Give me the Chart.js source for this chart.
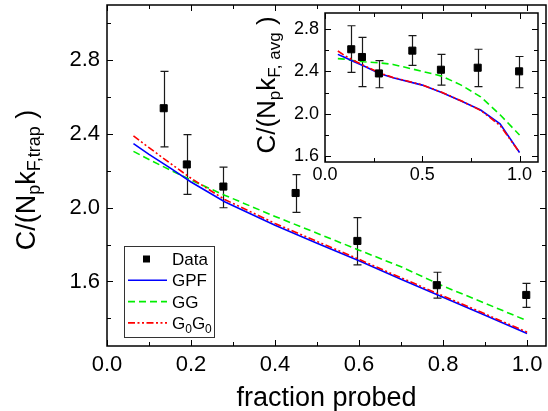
<!DOCTYPE html>
<html>
<head>
<meta charset="utf-8">
<script src="https://cdn.jsdelivr.net/npm/chart.js@4.4.1/dist/chart.umd.min.js"></script>
<style>
    html, body { margin: 0; padding: 0; background: #fff; }
    #wrap { position: relative; width: 548px; height: 411px; }
    #mainChart { position: absolute; left: 0; top: 0; }
    #insetChart { position: absolute; left: 250px; top: 6px; }
</style>
</head>
<body>
<div id="wrap">
    <canvas id="mainChart" width="548" height="411"></canvas>
    <canvas id="insetChart" width="290" height="184"></canvas>
</div>
<script>
// ============================================
// DATA
// ============================================

// measured points (same fractions for both panels)
const fraction = [0.135, 0.19, 0.277, 0.449, 0.596, 0.785, 0.998];

// main panel: C/(Np kF,trap)
const trapC = [2.54, 2.235, 2.115, 2.08, 1.82, 1.58, 1.527];
const trapErrLow = [2.33, 2.073, 2.0, 1.975, 1.69, 1.51, 1.46];
const trapErrHigh = [2.74, 2.397, 2.22, 2.18, 1.946, 1.65, 1.59];

// inset: C/(Np kF,avg)
const avgC = [2.608, 2.535, 2.38, 2.595, 2.415, 2.434, 2.40];
const avgErrLow = [2.39, 2.255, 2.245, 2.457, 2.27, 2.255, 2.245];
const avgErrHigh = [2.83, 2.72, 2.50, 2.737, 2.56, 2.608, 2.54];

// theory curves, main panel
const trapLineFrac = [0.063, 0.1, 0.15, 0.2, 0.28, 0.4, 0.5, 0.6, 0.7, 0.8, 0.9, 1.0];
const gpfTrap = [2.348, 2.29, 2.216, 2.14, 2.033, 1.905, 1.808, 1.712, 1.612, 1.515, 1.417, 1.318];
const ggTrap = [2.306, 2.262, 2.205, 2.15, 2.068, 1.953, 1.862, 1.77, 1.68, 1.575, 1.482, 1.387];
const g0g0Trap = [2.39, 2.326, 2.242, 2.16, 2.045, 1.915, 1.817, 1.72, 1.62, 1.522, 1.424, 1.325];

// theory curves, inset
const avgLineFrac = [0.066, 0.1, 0.15, 0.2, 0.28, 0.35, 0.5, 0.6, 0.7, 0.8, 0.9, 1.0];
const gpfAvg = [2.56, 2.532, 2.49, 2.45, 2.38, 2.34, 2.27, 2.20, 2.12, 2.035, 1.905, 1.635];
const ggAvg = [2.52, 2.515, 2.50, 2.49, 2.48, 2.465, 2.40, 2.355, 2.27, 2.16, 1.99, 1.80];
const g0g0Avg = [2.592, 2.55, 2.50, 2.455, 2.385, 2.342, 2.272, 2.202, 2.122, 2.032, 1.89, 1.635];

// series names ("_" marks a subscript)
const seriesLabels = ['Data', 'GPF', 'GG', 'G_0G_0'];

// tick labels
const mainXTicks = [0.0, 0.2, 0.4, 0.6, 0.8, 1.0];
const mainXMinor = [0.1, 0.3, 0.5, 0.7, 0.9];
const mainYTicks = [1.6, 2.0, 2.4, 2.8];
const mainYMinor = [1.4, 1.8, 2.2, 2.6, 3.0];
const insetXTicks = [0.0, 0.5, 1.0];
const insetXMinor = [0.25, 0.75];
const insetYTicks = [1.6, 2.0, 2.4, 2.8];
const insetYMinor = [1.8, 2.2, 2.6];

// ============================================
// HELPERS
// ============================================

const FONT = 'Arial, "Liberation Sans", sans-serif';

function points(xs, ys) {
    return xs.map((x, i) => ({ x, y: ys[i] }));
}

// split "C/(N_pk_{F,trap} )" into normal / subscript pieces
function parseRich(str) {
    const parts = [];
    let buf = '';
    let i = 0;
    while (i < str.length) {
        if (str[i] === '_') {
            if (buf) { parts.push({ text: buf, sub: false }); buf = ''; }
            if (str[i + 1] === '{') {
                const end = str.indexOf('}', i);
                parts.push({ text: str.slice(i + 2, end), sub: true });
                i = end + 1;
            } else {
                parts.push({ text: str[i + 1], sub: true });
                i += 2;
            }
        } else {
            buf += str[i];
            i++;
        }
    }
    if (buf) parts.push({ text: buf, sub: false });
    return parts;
}

function drawRich(ctx, str, x, y, size, subSize, shift, centered) {
    const parts = parseRich(str);
    let total = 0;
    parts.forEach(p => {
        ctx.font = (p.sub ? subSize : size) + 'px ' + FONT;
        p.w = ctx.measureText(p.text).width;
        total += p.w;
    });
    let cx = centered ? x - total / 2 : x;
    ctx.textAlign = 'left';
    ctx.textBaseline = 'alphabetic';
    parts.forEach(p => {
        ctx.font = (p.sub ? subSize : size) + 'px ' + FONT;
        ctx.fillText(p.text, cx, y + (p.sub ? shift : 0));
        cx += p.w;
    });
}

function axis(min, max, ticks, fontSize, padding, size, horizontal) {
    return {
        type: 'linear',
        min,
        max,
        grid: { display: false, drawTicks: false },
        border: { display: false },
        afterBuildTicks: scale => { scale.ticks = ticks.map(value => ({ value })); },
        afterFit: scale => {
            if (horizontal) scale.height = size;
            else scale.width = size;
            // labels never sit on the plot edges, so no extra room is needed
            scale.paddingTop = 0;
            scale.paddingBottom = 0;
            scale.paddingLeft = 0;
            scale.paddingRight = 0;
        },
        ticks: {
            color: '#000',
            padding,
            font: { family: FONT, size: fontSize },
            callback: value => Number(value).toFixed(1)
        }
    };
}

// ============================================
// PLUGINS
// ============================================

// box around the plot with inward ticks on all four sides
const frameTicks = {
    id: 'frameTicks',
    afterDatasetsDraw(chart, args, opts) {
        const { ctx, chartArea: a, scales: { x, y } } = chart;
        ctx.save();
        ctx.strokeStyle = '#000';
        ctx.lineWidth = 1.5;
        ctx.strokeRect(a.left, a.top, a.right - a.left, a.bottom - a.top);
        ctx.lineWidth = 1;
        const xMarks = (vals, len) => vals.forEach(v => {
            const px = Math.round(x.getPixelForValue(v)) + 0.5;
            ctx.beginPath();
            ctx.moveTo(px, a.bottom); ctx.lineTo(px, a.bottom - len);
            ctx.moveTo(px, a.top); ctx.lineTo(px, a.top + len);
            ctx.stroke();
        });
        const yMarks = (vals, len) => vals.forEach(v => {
            const py = Math.round(y.getPixelForValue(v)) + 0.5;
            ctx.beginPath();
            ctx.moveTo(a.left, py); ctx.lineTo(a.left + len, py);
            ctx.moveTo(a.right, py); ctx.lineTo(a.right - len, py);
            ctx.stroke();
        });
        xMarks(opts.xMajor, 6);
        xMarks(opts.xMinor, 4);
        yMarks(opts.yMajor, 6);
        yMarks(opts.yMinor, 4);
        ctx.restore();
    }
};

// vertical error bars with caps, read from dataset.errors
const errorBars = {
    id: 'errorBars',
    beforeDatasetsDraw(chart) {
        const { ctx, scales: { x, y } } = chart;
        ctx.save();
        ctx.strokeStyle = '#1a1a1a';
        ctx.lineWidth = 1.2;
        chart.data.datasets.forEach(ds => {
            if (!ds.errors) return;
            ds.data.forEach((p, i) => {
                const px = Math.round(x.getPixelForValue(p.x)) + 0.5;
                const top = y.getPixelForValue(ds.errors.high[i]);
                const bottom = y.getPixelForValue(ds.errors.low[i]);
                ctx.beginPath();
                ctx.moveTo(px, top); ctx.lineTo(px, bottom);
                ctx.moveTo(px - 4, top); ctx.lineTo(px + 4, top);
                ctx.moveTo(px - 4, bottom); ctx.lineTo(px + 4, bottom);
                ctx.stroke();
            });
        });
        ctx.restore();
    }
};

// axis titles with subscripts
const axisTitles = {
    id: 'axisTitles',
    afterDraw(chart, args, opts) {
        const { ctx, chartArea: a } = chart;
        ctx.save();
        ctx.fillStyle = '#000';
        if (opts.xText) {
            drawRich(ctx, opts.xText, (a.left + a.right) / 2, opts.xBaseline, opts.size, opts.subSize, opts.shift, true);
        }
        if (opts.yText) {
            ctx.translate(opts.yBaseline, opts.yCenter);
            ctx.rotate(-Math.PI / 2);
            drawRich(ctx, opts.yText, 0, 0, opts.size, opts.subSize, opts.shift, true);
        }
        ctx.restore();
    }
};

// framed legend inside the plot
const boxLegend = {
    id: 'boxLegend',
    afterDraw(chart, args, opts) {
        if (!opts.display) return;
        const { ctx } = chart;
        ctx.save();
        ctx.strokeStyle = '#333';
        ctx.lineWidth = 1;
        ctx.strokeRect(opts.left + 0.5, opts.top + 0.5, opts.width, opts.height);
        chart.data.datasets.forEach((ds, i) => {
            const rowY = opts.top + 13 + i * 21.3;
            if (ds.showLine === false) {
                ctx.fillStyle = ds.backgroundColor;
                ctx.fillRect(opts.left + 19, rowY - 3.5, 7, 7);
            } else {
                ctx.strokeStyle = ds.borderColor;
                ctx.lineWidth = ds.borderWidth;
                ctx.setLineDash(ds.borderDash || []);
                ctx.beginPath();
                ctx.moveTo(opts.left + 4, rowY);
                ctx.lineTo(opts.left + 43, rowY);
                ctx.stroke();
                ctx.setLineDash([]);
            }
            ctx.fillStyle = '#000';
            drawRich(ctx, ds.label, opts.left + 48, rowY + 6, 17, 12, 4, false);
        });
        ctx.restore();
    }
};

Chart.register(frameTicks, errorBars, axisTitles, boxLegend);

// ============================================
// CHARTS
// ============================================

// lower "order" is drawn on top: data, then red, blue, green
function makeDatasets(dataX, dataY, low, high, lineX, gpf, gg, g0g0) {
    return [
        {
            label: seriesLabels[0],
            data: points(dataX, dataY),
            showLine: false,
            pointStyle: 'rect',
            pointRadius: 5,
            backgroundColor: '#000',
            borderColor: '#000',
            errors: { low, high },
            order: 0
        },
        {
            label: seriesLabels[1],
            data: points(lineX, gpf),
            showLine: true,
            borderColor: '#0000ff',
            borderWidth: 1.6,
            pointRadius: 0,
            order: 2
        },
        {
            label: seriesLabels[2],
            data: points(lineX, gg),
            showLine: true,
            borderColor: '#00ee00',
            borderWidth: 1.6,
            borderDash: [7, 4],
            pointRadius: 0,
            order: 3
        },
        {
            label: seriesLabels[3],
            data: points(lineX, g0g0),
            showLine: true,
            borderColor: '#ff0000',
            borderWidth: 1.6,
            borderDash: [7, 2.5, 2, 2.5, 2, 2.5],
            pointRadius: 0,
            order: 1
        }
    ];
}

new Chart(document.getElementById('mainChart'), {
    type: 'scatter',
    data: {
        datasets: makeDatasets(fraction, trapC, trapErrLow, trapErrHigh, trapLineFrac, gpfTrap, ggTrap, g0g0Trap)
    },
    options: {
        responsive: false,
        animation: false,
        events: [],
        layout: { autoPadding: false, padding: { top: 5, right: 2, left: 0, bottom: 0 } },
        scales: {
            x: axis(0, 1.045, mainXTicks, 22, 6, 65, true),
            y: axis(1.25, 3.1, mainYTicks, 22, 7, 107, false)
        },
        plugins: {
            legend: { display: false },
            tooltip: { enabled: false },
            frameTicks: { xMajor: mainXTicks, xMinor: mainXMinor, yMajor: mainYTicks, yMinor: mainYMinor },
            axisTitles: {
                xText: 'fraction probed', xBaseline: 406,
                yText: 'C/(N_pk_{F,trap} )', yBaseline: 35, yCenter: 180,
                size: 27, subSize: 18, shift: 5
            },
            boxLegend: { display: true, left: 124, top: 246, width: 90, height: 91 }
        }
    }
});

new Chart(document.getElementById('insetChart'), {
    type: 'scatter',
    data: {
        datasets: makeDatasets(fraction, avgC, avgErrLow, avgErrHigh, avgLineFrac, gpfAvg, ggAvg, g0g0Avg)
    },
    options: {
        responsive: false,
        animation: false,
        events: [],
        layout: { autoPadding: false, padding: { top: 7, right: 2, left: 0, bottom: 0 } },
        scales: {
            x: axis(0, 1.095, insetXTicks, 18, 2, 28, true),
            y: axis(1.545, 2.95, insetYTicks, 18, 6, 75, false)
        },
        plugins: {
            legend: { display: false },
            tooltip: { enabled: false },
            frameTicks: { xMajor: insetXTicks, xMinor: insetXMinor, yMajor: insetYTicks, yMinor: insetYMinor },
            axisTitles: {
                yText: 'C/(N_pk_{F, avg} )', yBaseline: 25, yCenter: 79,
                size: 26, subSize: 17, shift: 5
            },
            boxLegend: { display: false }
        }
    }
});
</script>
</body>
</html>
